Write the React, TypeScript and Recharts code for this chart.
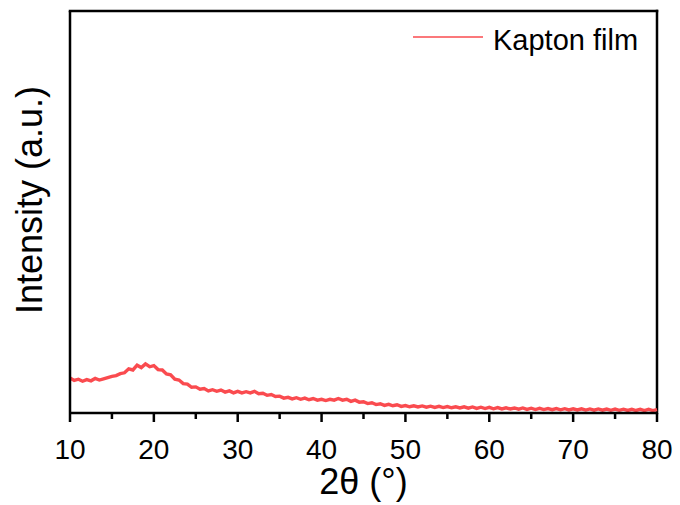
import { LineChart, Line, XAxis, YAxis, ReferenceLine, Label } from 'recharts'

// 2θ positions (degrees) and intensity (a.u.)
const twoTheta = [
  10, 10.5, 11, 11.5, 12, 12.5, 13, 13.5, 14, 14.5, 15, 15.5, 16, 16.5, 17, 17.5, 18, 18.5, 19, 19.5,
  20, 20.5, 21, 21.5, 22, 22.5, 23, 23.5, 24, 24.5, 25, 25.5, 26, 26.5, 27, 27.5, 28, 28.5, 29, 29.5,
  30, 30.5, 31, 31.5, 32, 32.5, 33, 33.5, 34, 34.5, 35, 35.5, 36, 36.5, 37, 37.5, 38, 38.5, 39, 39.5,
  40, 40.5, 41, 41.5, 42, 42.5, 43, 43.5, 44, 44.5, 45, 45.5, 46, 46.5, 47, 47.5, 48, 48.5, 49, 49.5,
  50, 50.5, 51, 51.5, 52, 52.5, 53, 53.5, 54, 54.5, 55, 55.5, 56, 56.5, 57, 57.5, 58, 58.5, 59, 59.5,
  60, 60.5, 61, 61.5, 62, 62.5, 63, 63.5, 64, 64.5, 65, 65.5, 66, 66.5, 67, 67.5, 68, 68.5, 69, 69.5,
  70, 70.5, 71, 71.5, 72, 72.5, 73, 73.5, 74, 74.5, 75, 75.5, 76, 76.5, 77, 77.5, 78, 78.5, 79, 79.5,
  80
]

const intensity = [
  8.7, 8.1, 8.4, 7.9, 8.3, 8.0, 8.6, 8.2, 8.5, 8.8, 9.1, 9.3, 9.8, 10.0, 11.0, 10.7, 11.9, 11.3, 12.2, 11.5,
  11.8, 10.8, 10.7, 9.7, 9.5, 8.4, 8.2, 7.3, 7.2, 6.4, 6.5, 5.9, 6.1, 5.5, 5.8, 5.4, 5.7, 5.2, 5.5, 5.0,
  5.4, 5.0, 5.3, 5.0, 5.4, 4.8, 4.9, 4.4, 4.6, 4.1, 4.2, 3.7, 3.9, 3.5, 3.8, 3.4, 3.7, 3.3, 3.6, 3.2,
  3.4, 3.1, 3.4, 3.2, 3.6, 3.2, 3.4, 2.9, 3.2, 2.7, 2.8, 2.35, 2.55, 2.1, 2.3, 1.9, 2.15, 1.8, 2.05, 1.65,
  1.85, 1.55, 1.8, 1.5, 1.75, 1.45, 1.7, 1.4, 1.65, 1.35, 1.6, 1.3, 1.55, 1.25, 1.55, 1.2, 1.5, 1.15, 1.45, 1.1,
  1.4, 1.05, 1.35, 1.0, 1.3, 1.0, 1.25, 0.95, 1.25, 0.9, 1.2, 0.85, 1.15, 0.85, 1.12, 0.82, 1.1, 0.8, 1.07, 0.77,
  1.05, 0.75, 1.03, 0.73, 1.02, 0.71, 1.0, 0.69, 0.97, 0.67, 0.96, 0.66, 0.95, 0.64, 0.93, 0.62, 0.9, 0.6, 0.9, 0.6,
  0.85
]

const xTicks = [10, 15, 20, 25, 30, 35, 40, 45, 50, 55, 60, 65, 70, 75, 80]

const seriesName = 'Kapton film'
const lineColor = '#fa4b4f'
const font = '"Liberation Sans", Arial, sans-serif'

const data = twoTheta.map((x, i) => ({ x, y: intensity[i] }))

const XTick = ({ x, y, payload }: any) => {
  const major = payload.value % 10 === 0
  return (
    <g>
      <line x1={x} x2={x} y1={y} y2={y + (major ? 9 : 6)} stroke="#000" strokeWidth={2.5} />
      {major && (
        <text x={x} y={y + 46} textAnchor="middle" fontSize={28} fontFamily={font} fill="#000">
          {payload.value}
        </text>
      )}
    </g>
  )
}

// legend drawn as an overlay so it doesn't take space from the plot
const LegendBox = () => (
  <div style={{ position: 'absolute', left: 413, top: 23, height: 34, width: 240 }}>
    <svg width={72} height={4} style={{ position: 'absolute', left: 0, top: 12 }}>
      <line x1={0} x2={70} y1={2} y2={2} stroke={lineColor} strokeWidth={1.6} />
    </svg>
    <span
      style={{
        position: 'absolute',
        left: 80,
        top: 0,
        fontSize: 29,
        lineHeight: '34px',
        fontFamily: font,
        color: '#000',
        whiteSpace: 'nowrap'
      }}
    >
      {seriesName}
    </span>
  </div>
)

export default function App() {
  return (
    <div style={{ position: 'absolute', left: 0, top: 0, width: 680, height: 505, background: '#fff' }}>
      <LineChart width={680} height={505} data={data} margin={{ top: 11, right: 23, bottom: 0, left: 0 }}>
        <XAxis
          dataKey="x"
          type="number"
          domain={[10, 80]}
          ticks={xTicks}
          interval={0}
          height={92}
          tickSize={0}
          tickMargin={0}
          tickLine={false}
          tick={<XTick />}
          axisLine={{ stroke: '#000', strokeWidth: 2.5 }}
        >
          <Label
            content={(props: any) => (
              <text
                x={props.viewBox.x + props.viewBox.width / 2}
                y={494}
                textAnchor="middle"
                fontSize={36}
                fontFamily={font}
                fill="#000"
              >
                2θ (°)
              </text>
            )}
          />
        </XAxis>
        <YAxis
          type="number"
          domain={[0, 100]}
          width={70}
          tick={false}
          tickLine={false}
          axisLine={{ stroke: '#000', strokeWidth: 2.5 }}
        >
          <Label
            content={() => (
              <text
                x={42}
                y={200}
                transform="rotate(-90, 42, 200)"
                textAnchor="middle"
                fontSize={36}
                fontFamily={font}
                fill="#000"
              >
                Intensity (a.u.)
              </text>
            )}
          />
        </YAxis>
        <ReferenceLine y={100} stroke="#000" strokeWidth={2.5} strokeLinecap="square" />
        <ReferenceLine x={80} stroke="#000" strokeWidth={2.5} strokeLinecap="square" />
        <Line
          dataKey="y"
          name={seriesName}
          type="linear"
          stroke={lineColor}
          strokeWidth={3.4}
          dot={false}
          isAnimationActive={false}
        />
      </LineChart>
      <LegendBox />
    </div>
  )
}
